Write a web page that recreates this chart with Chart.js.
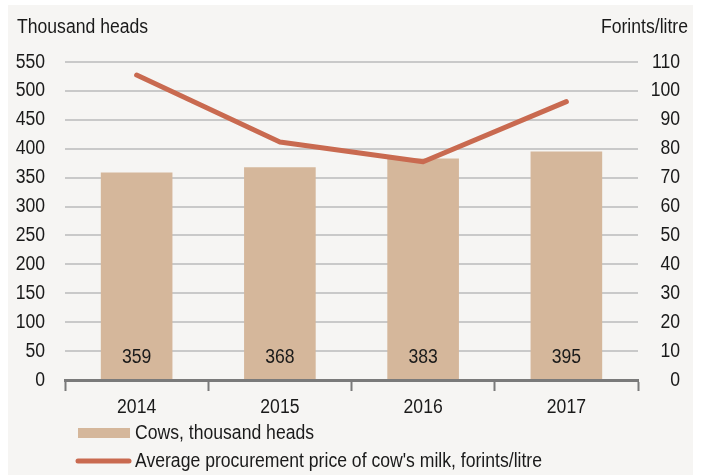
<!DOCTYPE html>
<html>
<head>
<meta charset="utf-8">
<script src="https://cdn.jsdelivr.net/npm/chart.js@4"></script>
<style>
  html, body { margin: 0; padding: 0; background: #fff; }
  #wrap { width: 702px; height: 475px; position: relative; }
</style>
</head>
<body>
<div id="wrap"><canvas id="milkChart" width="702" height="475"></canvas></div>
<script>
// --- data ---
const years = ['2014', '2015', '2016', '2017'];
const cows = [359, 368, 383, 395];
const milkPrice = [105.5, 82.3, 75.5, 96.3];
const leftTicks = [0, 550, 50];   // min, max, step
const rightTicks = [0, 110, 10];

const FONT = '"Liberation Sans", Arial, sans-serif';
const FONT_SIZE = 20;
const TEXT_SQUEEZE = 0.88; // source uses a narrow face; squeeze glyphs horizontally
const TEXT = '#1a1a1a';
const BAR_COLOR = '#d5b79b';
const LINE_COLOR = '#c96a50';
const BG = '#f6f5f3';

Chart.defaults.font.family = FONT;
Chart.defaults.font.size = FONT_SIZE;
Chart.defaults.color = TEXT;

// narrow text: wrap fillText on this canvas so every label is squeezed around its anchor
const canvas = document.getElementById('milkChart');
const ctx2d = canvas.getContext('2d');
const rawFillText = ctx2d.fillText.bind(ctx2d);
ctx2d.fillText = function (text, x, y, maxWidth) {
  ctx2d.save();
  ctx2d.translate(x, y);
  ctx2d.scale(TEXT_SQUEEZE, 1);
  if (maxWidth !== undefined) rawFillText(text, 0, 0, maxWidth / TEXT_SQUEEZE);
  else rawFillText(text, 0, 0);
  ctx2d.restore();
};

// Plugin: frame background, axis titles, value labels, legend
Chart.register({
  id: 'decor',
  beforeDraw: function (chart) {
    const ctx = chart.ctx;
    ctx.save();
    ctx.fillStyle = '#ffffff';
    ctx.fillRect(0, 0, chart.width, chart.height);
    ctx.fillStyle = BG;
    ctx.fillRect(8, 5, 685, chart.height - 5);
    ctx.restore();
  },
  afterDatasetsDraw: function (chart) {
    const ctx = chart.ctx;
    ctx.save();
    ctx.font = FONT_SIZE + 'px ' + FONT;
    ctx.fillStyle = TEXT;
    ctx.textBaseline = 'middle';

    // value labels inside the bars
    ctx.textAlign = 'center';
    const meta = chart.getDatasetMeta(1);
    meta.data.forEach(function (bar, i) {
      ctx.fillText(String(cows[i]), bar.x, chart.chartArea.bottom - 23);
    });

    // axis titles
    ctx.textAlign = 'left';
    ctx.fillText('Thousand heads', 17, 27);
    ctx.textAlign = 'right';
    ctx.fillText('Forints/litre', 688, 27);

    // legend
    ctx.textAlign = 'left';
    ctx.fillStyle = BAR_COLOR;
    ctx.fillRect(78, 428, 52, 10);
    ctx.fillStyle = TEXT;
    ctx.fillText('Cows, thousand heads', 135, 433);

    ctx.strokeStyle = LINE_COLOR;
    ctx.lineWidth = 5;
    ctx.lineCap = 'round';
    ctx.beginPath();
    ctx.moveTo(78, 461);
    ctx.lineTo(129, 461);
    ctx.stroke();
    ctx.fillText("Average procurement price of cow's milk, forints/litre", 135, 461);
    ctx.restore();
  },
});

new Chart(canvas, {
  data: {
    labels: years,
    datasets: [
      {
        type: 'line',
        label: "Average procurement price of cow's milk, forints/litre",
        data: milkPrice,
        yAxisID: 'yRight',
        borderColor: LINE_COLOR,
        borderWidth: 5,
        borderCapStyle: 'round',
        borderJoinStyle: 'round',
        pointRadius: 0,
        tension: 0,
        order: 0,
      },
      {
        type: 'bar',
        label: 'Cows, thousand heads',
        data: cows,
        yAxisID: 'yLeft',
        backgroundColor: BAR_COLOR,
        borderWidth: 0,
        categoryPercentage: 1,
        barPercentage: 0.5,
        order: 1,
      },
    ],
  },
  options: {
    responsive: false,
    animation: false,
    devicePixelRatio: 1,
    layout: { padding: { top: 62, bottom: 55, left: 0, right: 22 } },
    plugins: { legend: { display: false }, tooltip: { enabled: false } },
    scales: {
      x: {
        offset: true,
        grid: {
          offset: true,
          drawOnChartArea: false,
          drawTicks: true,
          tickLength: 11,
          tickWidth: 2,
          tickColor: '#7a7a7a',
        },
        border: { display: true, color: '#7a7a7a', width: 3, z: 1 },
        ticks: { padding: 4, color: TEXT, maxRotation: 0 },
        afterFit: function (s) { s.height = 40; },
      },
      yLeft: {
        position: 'left',
        min: leftTicks[0],
        max: leftTicks[1],
        ticks: { stepSize: leftTicks[2], padding: 20, color: TEXT },
        grid: { color: '#c9c9c9', lineWidth: 2, drawTicks: false },
        border: { display: false },
        afterFit: function (s) { s.width = 65; },
      },
      yRight: {
        position: 'right',
        min: rightTicks[0],
        max: rightTicks[1],
        ticks: { stepSize: rightTicks[2], crossAlign: 'far', color: TEXT },
        grid: { drawOnChartArea: false, drawTicks: false },
        border: { display: false },
        afterFit: function (s) { s.width = 42; },
      },
    },
  },
});
</script>
</body>
</html>
